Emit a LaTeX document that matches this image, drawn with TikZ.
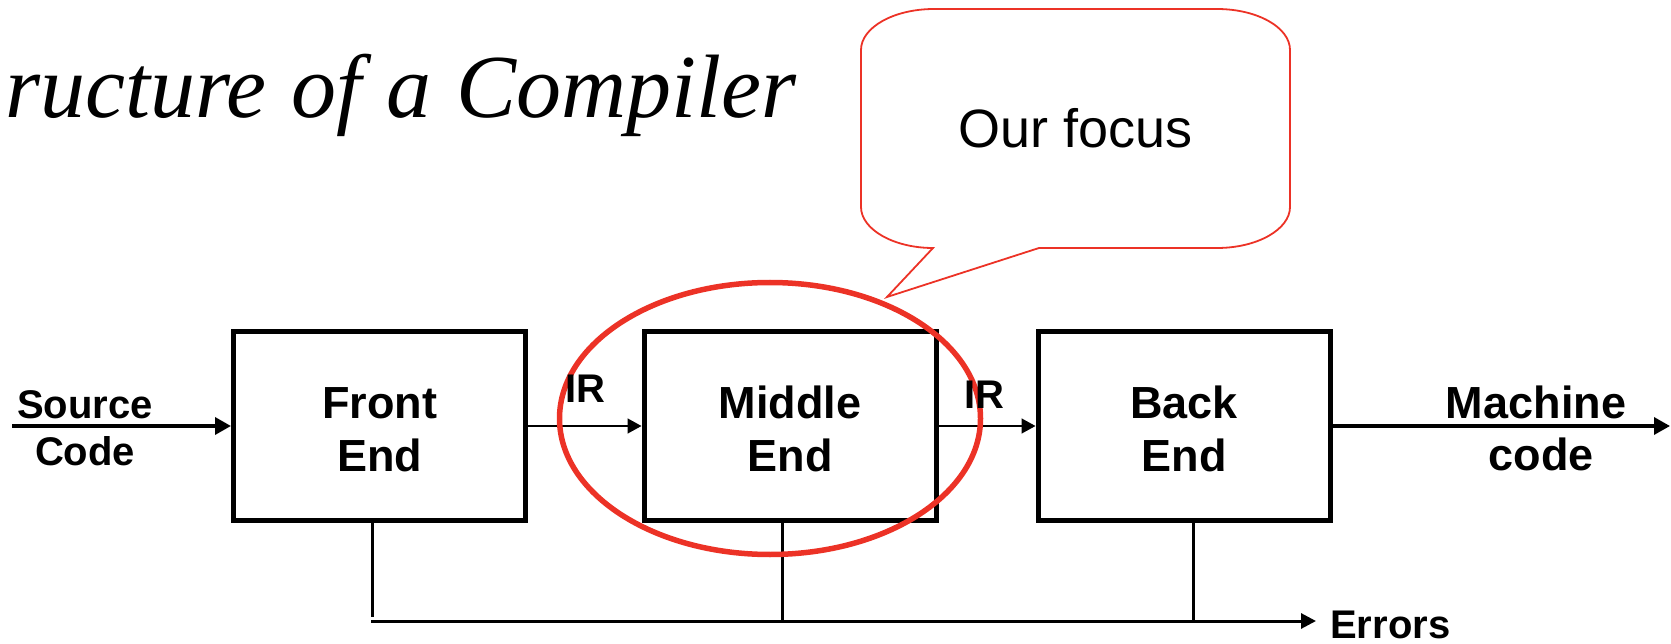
\documentclass[tikz,border=0pt]{standalone}
\usepackage{fontspec}
\setmainfont{Liberation Sans}
\newfontfamily\serifit{Liberation Serif}
\usetikzlibrary{arrows.meta,shapes.geometric}
\definecolor{focusred}{RGB}{236,50,38}
\newcommand{\toppad}{\rule{0pt}{39pt}}
\begin{document}
\begin{tikzpicture}[x=1pt,y=-1pt,
  stage/.style={draw, line width=5pt, minimum width=292pt, minimum height=189pt,
    inner sep=0pt, align=center, font=\bfseries\fontsize{45}{53}\selectfont},
  lbl/.style={font=\bfseries\fontsize{40}{48}\selectfont, inner sep=0pt, anchor=base},
  biglbl/.style={lbl, font=\bfseries\fontsize{45}{53}\selectfont},
  thickarrow/.style={line width=3.5pt, -{Triangle[length=16pt,width=17pt]}},
  thinarrow/.style={line width=1.5pt, -{Triangle[length=14pt,width=15pt]}},
  errline/.style={line width=3pt},
  callout/.style={draw=focusred, line width=1.8pt},
  focusring/.style={ellipse, draw=focusred, line width=5.5pt, inner sep=0pt}
]
\useasboundingbox (0,0) rectangle (1671,644);

% title (as far as it is visible)
\node[anchor=base east, inner sep=0pt, font=\serifit\itshape\fontsize{90}{100}\selectfont]
  (title) at (797,118) {\spaceskip=25pt ructure of a Compiler};

% stages
\node[stage] (front)  at (379.5,426) {\toppad Front\\End};
\node[stage] (middle) at (790,426)   {\toppad Middle\\End};
\node[stage] (back)   at (1184,426)  {\toppad Back\\End};

% main flow
\coordinate (srcstart) at (12,426);
\coordinate (mcend) at (1670,426);
\draw[thickarrow] (srcstart) -- (front.west);
\draw[thinarrow] (front.east) -- (middle.west);
\draw[thinarrow] (middle.east) -- (back.west);
\draw[thickarrow] (back.east) -- (mcend);

% errors
\coordinate (efront) at (372,617);
\coordinate (eleft) at (371,621);
\coordinate (emid) at (782,621);
\coordinate (eback) at (1193,621);
\coordinate (eend) at (1316,621);
\draw[errline] (front.south -| efront) -- (efront);
\draw[errline] (middle.south -| emid) -- (emid);
\draw[errline] (back.south -| eback) -- (eback);
\draw[errline, -{Triangle[length=15pt,width=15pt]}] (eleft) -- (eend);

% callout
\draw[callout] (933,248) -- (887,297) -- (1039,248) -- (1217,248)
  .. controls (1257.3,248) and (1290,229.4) .. (1290,207) -- (1290,50)
  .. controls (1290,27.4) and (1257.3,9) .. (1217,9) -- (934,9)
  .. controls (893.7,9) and (861,27.4) .. (861,50) -- (861,207)
  .. controls (861,229.4) and (893.7,248) .. (933,248) -- cycle;
\node[inner sep=0pt, anchor=base, font=\fontsize{54}{60}\selectfont]
  (focustext) at (1075.5,148) {Our focus};

% focus ring
\node[focusring, minimum width=421pt, minimum height=272pt] (focus) at (770,418.5) {};

% labels
\node[lbl] (src)   at (85,418)  {Source};
\node[lbl] (srcb)  at (85,465)  {Code};
\node[lbl] (ir1)   at (585,402) {IR};
\node[lbl] (ir2)   at (984,408) {IR};
\node[biglbl] (mach)  at (1536,418) {Machine};
\node[biglbl] (mcode) at (1541,470) {code};
\node[lbl, anchor=base west] (err) at (1330,638) {Errors};
\end{tikzpicture}
\end{document}
